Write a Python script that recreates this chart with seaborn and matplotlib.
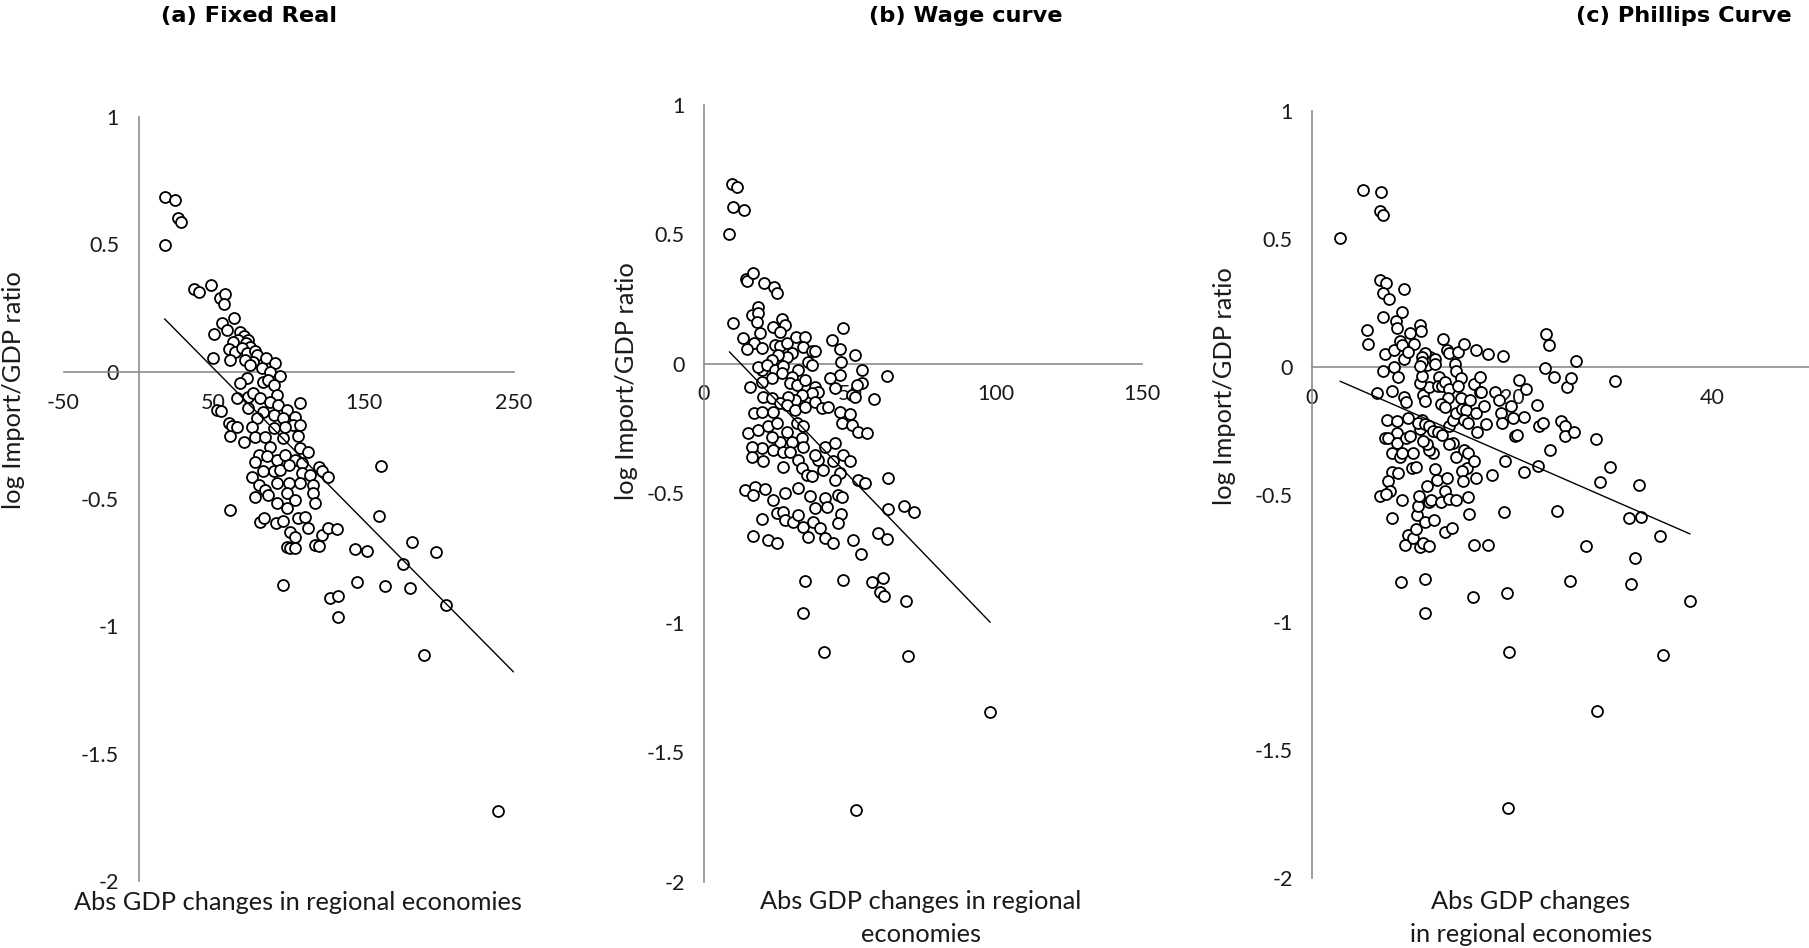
import numpy as np
import pandas as pd
import matplotlib
matplotlib.use("Agg")
import matplotlib.pyplot as plt
import seaborn as sns

sns.set_theme(style="white")
plt.rcParams["font.family"] = ["Lato", "DejaVu Sans"]

# ---------------------------------------------------------------- data
y_ticks = [-2, -1.5, -1, -0.5, 0, 0.5, 1]
y_tick_labels = ["-2", "-1.5", "-1", "-0.5", "0", "0.5", "1"]

# (a) Fixed Real
fixed_real_x = [
    17.4, 24.4, 26.4, 28.5, 17.9, 37.1, 40.0, 48.2, 54.0, 57.8,
    57.1, 63.8, 55.5, 58.9, 50.0, 67.8, 70.4, 73.3, 66.6, 71.8,
    74.4, 63.3, 60.0, 64.4, 61.1, 68.9, 72.2, 77.8, 79.3, 85.1,
    91.1, 76.6, 82.2, 87.8, 94.4, 71.1, 74.4, 49.5, 72.2, 67.8,
    65.5, 73.3, 76.6, 83.3, 86.6, 90.0, 92.2, 81.1, 87.8, 93.3,
    98.9, 104.4, 107.8, 83.3, 78.9, 90.0, 96.6, 103.3, 107.8, 75.5,
    60.0, 62.2, 73.3, 52.0, 55.0, 61.1, 65.5, 70.0, 77.8, 84.4,
    90.0, 97.8, 106.6, 96.6, 87.8, 80.0, 85.5, 92.2, 97.8, 107.8,
    113.3, 104.4, 108.9, 77.8, 83.3, 75.5, 90.0, 94.4, 100.0, 108.9,
    114.4, 120.0, 122.2, 126.6, 80.0, 84.4, 92.2, 100.0, 107.8, 116.6,
    77.8, 86.6, 92.2, 98.9, 104.4, 98.9, 116.6, 117.7, 61.1, 81.1,
    83.7, 91.7, 96.6, 106.6, 111.1, 113.3, 101.1, 104.4, 98.9, 101.1,
    104.4, 117.7, 120.0, 122.2, 126.6, 132.2, 144.4, 96.6, 145.5, 127.7,
    133.3, 152.0, 133.3, 161.5, 160.5, 164.1, 176.4, 182.0, 181.3, 198.2,
    205.1, 190.3, 239.7,
]
fixed_real_y = [
    0.686, 0.676, 0.602, 0.586, 0.498, 0.325, 0.312, 0.340, 0.288, 0.304,
    0.264, 0.212, 0.190, 0.164, 0.147, 0.155, 0.141, 0.124, 0.124, 0.111,
    0.098, 0.118, 0.089, 0.079, 0.046, 0.092, 0.072, 0.081, 0.065, 0.052,
    0.035, 0.039, 0.013, 0.000, -0.016, 0.046, 0.026, 0.052, -0.026, -0.046,
    -0.102, -0.098, -0.085, -0.039, -0.033, -0.052, -0.092, -0.105, -0.118, -0.131,
    -0.150, -0.177, -0.124, -0.157, -0.183, -0.170, -0.183, -0.209, -0.209, -0.216,
    -0.203, -0.212, -0.144, -0.150, -0.155, -0.251, -0.216, -0.275, -0.255, -0.255,
    -0.222, -0.216, -0.251, -0.261, -0.294, -0.327, -0.333, -0.347, -0.327, -0.301,
    -0.314, -0.347, -0.360, -0.353, -0.392, -0.412, -0.392, -0.386, -0.366, -0.399,
    -0.405, -0.373, -0.390, -0.412, -0.445, -0.464, -0.438, -0.438, -0.438, -0.445,
    -0.494, -0.484, -0.517, -0.477, -0.504, -0.534, -0.477, -0.517, -0.543, -0.589,
    -0.576, -0.595, -0.586, -0.576, -0.569, -0.615, -0.628, -0.651, -0.687, -0.693,
    -0.691, -0.680, -0.683, -0.641, -0.615, -0.617, -0.696, -0.837, -0.824, -0.890,
    -0.879, -0.705, -0.964, -0.369, -0.567, -0.840, -0.755, -0.667, -0.850, -0.710,
    -0.917, -1.114, -1.726,
]

# (b) Wage curve
wage_curve_x = [
    8.7, 9.6, 11.3, 10.1, 13.8, 14.3, 14.9, 16.9, 20.7, 24.1,
    24.9, 18.4, 16.6, 18.6, 18.1, 10.0, 26.9, 27.8, 23.8, 26.1,
    19.2, 13.5, 17.3, 19.8, 14.6, 24.3, 26.1, 28.3, 31.4, 34.6,
    34.1, 36.9, 38.1, 30.3, 28.3, 25.5, 23.2, 35.8, 36.9, 43.8,
    46.6, 47.5, 51.8, 47.0, 46.6, 54.1, 62.6, 58.4, 54.1, 52.3,
    50.6, 44.9, 43.2, 51.8, 19.8, 18.6, 21.5, 24.3, 27.2, 26.6,
    32.3, 30.1, 29.5, 31.8, 34.6, 38.1, 39.2, 36.9, 33.5, 31.2,
    28.9, 23.2, 19.8, 15.8, 20.3, 23.2, 26.1, 28.3, 31.2, 34.6,
    38.1, 40.3, 42.6, 46.6, 50.1, 17.3, 19.8, 23.8, 15.2, 18.6,
    22.1, 24.9, 28.3, 31.8, 34.1, 30.1, 26.1, 23.2, 19.8, 16.3,
    16.3, 20.3, 23.8, 27.2, 29.5, 33.5, 34.1, 32.3, 27.2, 33.5,
    35.2, 36.9, 39.2, 40.9, 38.1, 41.5, 44.9, 47.8, 50.1, 44.3,
    46.6, 44.9, 47.2, 50.6, 52.9, 55.8, 52.9, 55.2, 63.0, 14.1,
    17.5, 20.9, 16.9, 23.8, 27.8, 32.1, 36.3, 38.1, 41.5, 42.1,
    46.1, 47.2, 47.0, 45.8, 24.9, 27.2, 27.8, 30.6, 32.3, 34.1,
    37.5, 39.8, 35.8, 41.5, 44.3, 19.8, 16.9, 21.8, 24.9, 51.2,
    53.8, 59.8, 62.6, 63.2, 68.7, 72.0, 98.1, 52.1, 41.3, 69.9,
    69.3, 34.1, 34.7, 47.6, 57.5, 60.4, 61.4, 61.7,
]
wage_curve_y = [
    0.502, 0.692, 0.681, 0.603, 0.592, 0.325, 0.318, 0.349, 0.310, 0.297,
    0.271, 0.220, 0.188, 0.197, 0.162, 0.155, 0.171, 0.149, 0.143, 0.123,
    0.119, 0.098, 0.081, 0.059, 0.055, 0.072, 0.068, 0.078, 0.104, 0.104,
    0.063, 0.050, 0.050, 0.040, 0.027, 0.033, 0.014, 0.007, -0.005, 0.091,
    0.055, 0.136, 0.033, 0.007, -0.044, -0.025, -0.048, -0.138, -0.074, -0.083,
    -0.121, -0.096, -0.057, -0.128, -0.025, -0.012, -0.005, -0.025, -0.009, -0.038,
    -0.025, -0.050, -0.076, -0.083, -0.063, -0.089, -0.108, -0.115, -0.121, -0.141,
    -0.128, -0.057, -0.070, -0.089, -0.128, -0.134, -0.153, -0.160, -0.179, -0.166,
    -0.147, -0.173, -0.166, -0.186, -0.195, -0.192, -0.186, -0.186, -0.269, -0.256,
    -0.243, -0.230, -0.263, -0.230, -0.243, -0.301, -0.301, -0.282, -0.327, -0.321,
    -0.359, -0.378, -0.333, -0.340, -0.340, -0.288, -0.321, -0.372, -0.398, -0.404,
    -0.430, -0.436, -0.372, -0.411, -0.353, -0.321, -0.308, -0.353, -0.378, -0.378,
    -0.424, -0.449, -0.230, -0.237, -0.263, -0.269, -0.449, -0.462, -0.440, -0.488,
    -0.478, -0.485, -0.507, -0.527, -0.498, -0.481, -0.511, -0.559, -0.520, -0.555,
    -0.507, -0.514, -0.581, -0.617, -0.578, -0.572, -0.604, -0.610, -0.584, -0.630,
    -0.610, -0.636, -0.668, -0.675, -0.691, -0.601, -0.665, -0.681, -0.694, -0.681,
    -0.735, -0.653, -0.678, -0.561, -0.550, -0.575, -1.345, -1.725, -1.113, -1.129,
    -0.915, -0.962, -0.840, -0.836, -0.845, -0.883, -0.829, -0.899,
]

# (c) Phillips Curve
phillips_x = [
    2.8, 5.1, 6.9, 6.8, 7.1, 6.8, 7.4, 7.1, 7.7, 9.2,
    5.5, 5.6, 7.1, 8.4, 9.0, 8.5, 8.8, 7.3, 8.2, 8.2,
    7.1, 8.6, 9.8, 10.2, 9.2, 10.8, 10.9, 9.0, 9.6, 6.5,
    8.0, 9.2, 9.4, 7.5, 8.5, 8.5, 7.3, 7.6, 8.0, 8.5,
    9.4, 9.6, 9.8, 8.8, 9.0, 8.0, 8.6, 7.6, 7.8, 6.8,
    7.4, 8.0, 9.0, 9.6, 9.3, 8.9, 10.1, 10.0, 10.4, 10.1,
    10.4, 10.5, 10.6, 10.7, 10.8, 11.1, 11.7, 11.3, 11.3, 11.5,
    11.3, 11.7, 11.9, 12.2, 12.3, 12.5, 12.1, 11.7, 11.5, 11.1,
    10.8, 11.0, 10.6, 11.3, 11.7, 12.1, 12.6, 11.1, 11.3, 11.7,
    10.8, 11.0, 11.5, 11.8, 11.3, 11.0, 11.0, 10.8, 12.3, 12.3,
    12.7, 12.6, 13.0, 13.3, 13.1, 13.5, 13.7, 14.3, 14.4, 13.7,
    13.6, 12.9, 13.3, 13.7, 13.0, 14.1, 14.4, 14.1, 13.7, 14.4,
    12.9, 13.3, 13.7, 13.5, 13.3, 14.0, 14.4, 14.6, 15.2, 14.9,
    14.6, 14.9, 15.0, 15.4, 15.2, 15.6, 15.8, 16.2, 16.4, 17.6,
    16.8, 16.8, 16.4, 16.5, 16.9, 17.2, 17.4, 15.2, 15.6, 15.5,
    15.0, 15.1, 16.2, 16.4, 15.6, 15.7, 16.2, 17.6, 16.1, 18.0,
    18.3, 18.7, 18.9, 19.0, 19.1, 19.3, 19.2, 19.5, 19.7, 19.6,
    19.9, 20.1, 20.3, 20.5, 20.7, 21.4, 21.2, 21.2, 22.5, 22.7,
    23.1, 22.6, 23.3, 23.4, 23.7, 23.8, 24.2, 24.5, 24.9, 25.3,
    25.3, 25.5, 25.9, 26.2, 26.4, 25.8, 27.4, 28.4, 28.5, 28.8,
    29.8, 30.3, 31.7, 31.9, 32.3, 32.7, 32.9, 34.8, 35.1, 37.8,
]
phillips_y = [
    0.502, 0.692, 0.682, 0.609, 0.592, 0.340, 0.326, 0.288, 0.264, 0.302,
    0.145, 0.088, 0.193, 0.178, 0.212, 0.150, 0.102, 0.050, 0.064, -0.002,
    -0.017, -0.040, 0.131, 0.088, 0.031, 0.162, 0.138, 0.086, 0.059, -0.102,
    -0.097, -0.119, -0.140, -0.207, -0.214, -0.259, -0.278, -0.278, -0.337, -0.297,
    -0.278, -0.202, -0.273, -0.354, -0.337, -0.411, -0.416, -0.449, -0.487, -0.504,
    -0.497, -0.592, -0.521, -0.658, -0.696, -0.841, -0.337, -0.397, -0.392, -0.670,
    -0.635, -0.582, -0.544, -0.504, -0.706, -0.689, -0.701, -0.830, -0.963, -0.468,
    -0.606, -0.528, -0.521, -0.599, -0.402, -0.445, -0.337, -0.326, -0.302, -0.290,
    -0.242, -0.207, -0.219, -0.226, -0.231, -0.250, -0.254, -0.112, -0.136, -0.078,
    -0.064, -0.036, 0.007, 0.036, 0.055, 0.036, 0.019, 0.002, 0.031, 0.012,
    -0.040, -0.076, -0.076, -0.059, 0.107, 0.067, 0.055, 0.012, -0.017, -0.088,
    -0.124, -0.147, -0.159, -0.231, -0.266, -0.207, -0.183, -0.297, -0.302, -0.354,
    -0.528, -0.487, -0.516, -0.435, -0.647, -0.630, -0.521, 0.059, 0.090, -0.045,
    -0.076, -0.124, -0.164, -0.171, -0.207, -0.219, -0.131, -0.069, 0.067, 0.050,
    -0.040, -0.100, -0.183, -0.254, -0.100, -0.154, -0.226, -0.326, -0.337, -0.397,
    -0.409, -0.449, -0.368, -0.435, -0.511, -0.575, -0.697, -0.697, -0.901, -0.425,
    -0.100, -0.131, -0.183, -0.219, 0.043, -0.368, -0.570, -0.884, -1.115, -1.728,
    -0.155, -0.202, -0.273, -0.266, -0.052, -0.088, -0.197, -0.411, -0.150, -0.231,
    -0.219, -0.390, -0.005, 0.126, 0.083, -0.326, -0.040, -0.563, -0.212, -0.231,
    -0.273, -0.081, -0.045, -0.254, 0.021, -0.837, -0.701, -0.283, -1.348, -0.452,
    -0.392, -0.057, -0.592, -0.849, -0.749, -0.463, -0.587, -0.663, -1.129, -0.915,
]

# Linear trend estimated on the full regional sample (intercept, slope)
trend_intercepts = [0.311, 0.147, -0.009]
trend_slopes = [-0.00596, -0.01168, -0.01707]

titles = ["(a) Fixed Real", "(b) Wage curve", "(c) Phillips Curve"]
x_titles = [
    "Abs GDP changes in regional economies",
    "Abs GDP changes in regional\neconomies",
    "Abs GDP changes\nin regional economies",
]
y_title = "log Import/GDP ratio"

a_xticks = [-50, 50, 150, 250]
b_xticks = [0, 50, 100, 150]
c_xticks = [0, 20, 40]

# ---------------------------------------------------------------- layout
W, H = 1809, 948
fig = plt.figure(figsize=(W / 100, H / 100), dpi=100)
fig.patch.set_facecolor("white")

AXIS_GREY = "#8c8c8c"
TEXT = "#1a1a1a"


def px_rect(x0, x1, y_top, y_bot):
    return [x0 / W, 1 - y_bot / H, (x1 - x0) / W, (y_bot - y_top) / H]


panels = [
    dict(x=fixed_real_x, y=fixed_real_y, xlim=(-50, 250), xticks=a_xticks,
         rect=px_rect(63.5, 513.5, 117, 881), fit_end=250,
         title_xy=(249, 16), ylab_xy=(14, 390), xlab_xy=(298, 902)),
    dict(x=wage_curve_x, y=wage_curve_y, xlim=(0, 150), xticks=b_xticks,
         rect=px_rect(704, 1141.5, 104.6, 881.5), fit_end=None,
         title_xy=(966, 16), ylab_xy=(627, 381), xlab_xy=(921, 918)),
    dict(x=phillips_x, y=phillips_y, xlim=(0, 60), xticks=c_xticks,
         rect=px_rect(1312, 1912, 111, 878), fit_end=None,
         title_xy=(1684, 16), ylab_xy=(1225, 386), xlab_xy=(1531, 918)),
]

for i, p in enumerate(panels):
    ax = fig.add_axes(p["rect"])
    ax.patch.set_alpha(0)
    df = pd.DataFrame({"x": p["x"], "y": p["y"]})

    sns.scatterplot(data=df, x="x", y="y", ax=ax, marker="o", s=62,
                    color="white", edgecolor="black", linewidth=1.3,
                    zorder=3, clip_on=False)

    # trend line across the observed range
    x_end = p["fit_end"] if p["fit_end"] is not None else df["x"].max()
    xs = np.array([df["x"].min(), x_end])
    ax.plot(xs, trend_intercepts[i] + trend_slopes[i] * xs,
            color="black", lw=1.0, zorder=4)

    ax.set_xlim(*p["xlim"])
    ax.set_ylim(-2, 1)
    ax.set_xlabel("")
    ax.set_ylabel("")

    for side in ["top", "right"]:
        ax.spines[side].set_visible(False)
    ax.spines["left"].set_position(("data", 0))
    ax.spines["bottom"].set_position(("data", 0))
    for side in ["left", "bottom"]:
        ax.spines[side].set_color(AXIS_GREY)
        ax.spines[side].set_linewidth(1.2)
        ax.spines[side].set_zorder(2)

    ax.set_yticks(y_ticks)
    ax.set_yticklabels(y_tick_labels)
    ax.set_xticks(p["xticks"])
    ax.set_xticklabels([str(t) for t in p["xticks"]])
    ax.tick_params(axis="both", direction="out", length=5, width=1.2,
                   color=AXIS_GREY, labelsize=15.5, labelcolor=TEXT)
    ax.tick_params(axis="y", pad=9)
    ax.tick_params(axis="x", pad=10)
    ax.grid(False)

    tx, ty = p["title_xy"]
    fig.text(tx / W, 1 - ty / H, titles[i], ha="center", va="center",
             fontsize=16.2, fontweight="bold", family="DejaVu Sans", color="black")
    lx, ly = p["ylab_xy"]
    fig.text(lx / W, 1 - ly / H, y_title, rotation=90, ha="center", va="center",
             fontsize=18.3, color=TEXT)
    bx, by = p["xlab_xy"]
    fig.text(bx / W, 1 - by / H, x_titles[i], ha="center", va="center",
             fontsize=18.3, color=TEXT, linespacing=1.5)

fig.savefig("out.png", dpi=100, facecolor="white")
